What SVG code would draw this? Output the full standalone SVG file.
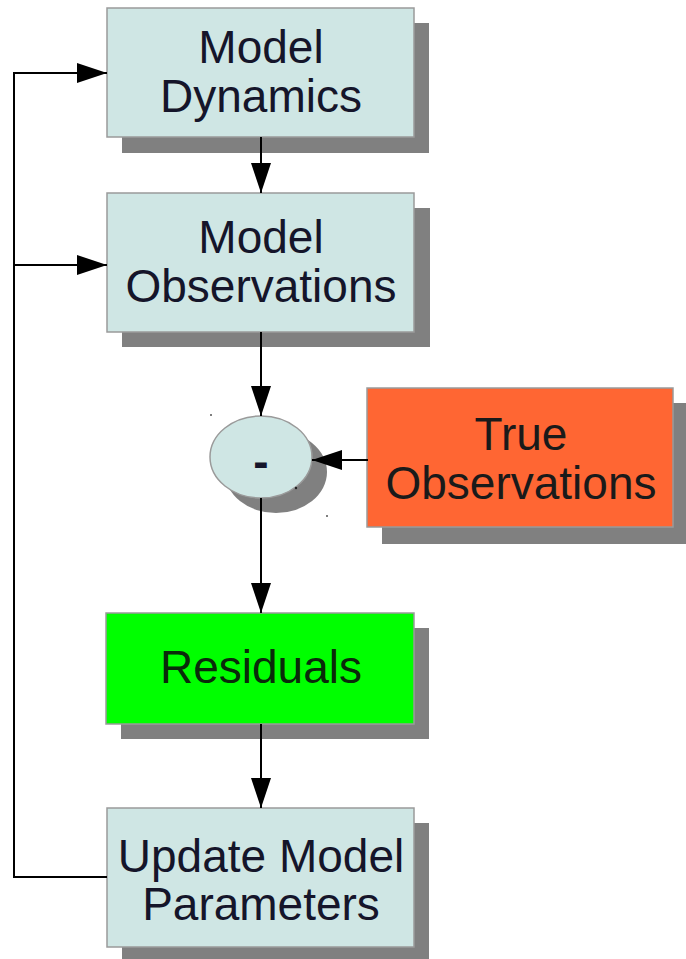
<svg xmlns="http://www.w3.org/2000/svg" width="686" height="959" viewBox="0 0 686 959">
<style>
.shadow{fill:#808080}
.box{fill:#cfe6e4;stroke:#9a9a9a;stroke-width:1.5}
.lbl{font-family:"Liberation Sans",Arial,sans-serif;font-size:46px;fill:#15152a;text-anchor:middle}
.conn{stroke:#000;stroke-width:2;fill:none}
</style>
<defs>
<marker id="ah" viewBox="0 0 30 20" refX="30" refY="10" markerWidth="30" markerHeight="20" markerUnits="userSpaceOnUse" orient="auto">
<path d="M0,0 L30,10 L0,20 Z" fill="#000"/>
</marker>
</defs>
<rect width="686" height="959" fill="#fff"/>
<g id="model-dynamics">
<rect class="shadow" x="122" y="23" width="307" height="130"/>
<rect class="box" x="107" y="8" width="307" height="129"/>
<text class="lbl" x="261" y="63">Model</text>
<text class="lbl" x="261" y="112">Dynamics</text>
</g>
<g id="model-observations">
<rect class="shadow" x="122" y="208" width="308" height="139"/>
<rect class="box" x="107" y="193" width="307" height="139"/>
<text class="lbl" x="261" y="253">Model</text>
<text class="lbl" x="261" y="302">Observations</text>
</g>
<g id="minus">
<ellipse class="shadow" cx="276" cy="472" rx="51" ry="41"/>
<ellipse class="box" cx="261" cy="457" rx="51" ry="41"/>
<text class="lbl" x="261" y="477" font-weight="bold">-</text>
<circle cx="211" cy="415" r="1" fill="#555"/>
<circle cx="296" cy="488" r="1.2" fill="#222"/>
<circle cx="327" cy="516" r="1" fill="#555"/>
</g>
<g id="true-observations">
<rect class="shadow" x="382" y="403" width="304" height="141"/>
<rect x="367" y="388" width="306" height="139" fill="#ff6633" stroke="#9a9a9a" stroke-width="1.5"/>
<text class="lbl" x="521" y="450" style="fill:#1a1a1a">True</text>
<text class="lbl" x="521" y="499" style="fill:#1a1a1a">Observations</text>
</g>
<g id="residuals">
<rect class="shadow" x="121" y="628" width="308" height="111"/>
<rect x="106" y="613" width="308" height="111" fill="#00ff00" stroke="#9a9a9a" stroke-width="1.5"/>
<text class="lbl" x="261" y="683" style="fill:#0a2a0a">Residuals</text>
</g>
<g id="update-model-parameters">
<rect class="shadow" x="122" y="823" width="307" height="136"/>
<rect class="box" x="107" y="808" width="307" height="139"/>
<text class="lbl" x="261" y="872">Update Model</text>
<text class="lbl" x="261" y="920">Parameters</text>
</g>
<g id="connectors">
<path class="conn" d="M261,137 V193" marker-end="url(#ah)"/>
<path class="conn" d="M261,332 V416" marker-end="url(#ah)"/>
<path class="conn" d="M368,460 H312" marker-end="url(#ah)"/>
<path class="conn" d="M261,498 V613" marker-end="url(#ah)"/>
<path class="conn" d="M261,724 V808" marker-end="url(#ah)"/>
<path class="conn" d="M107,877 H14 V73 H107" marker-end="url(#ah)"/>
<path class="conn" d="M14,265 H107" marker-end="url(#ah)"/>
</g>
</svg>
